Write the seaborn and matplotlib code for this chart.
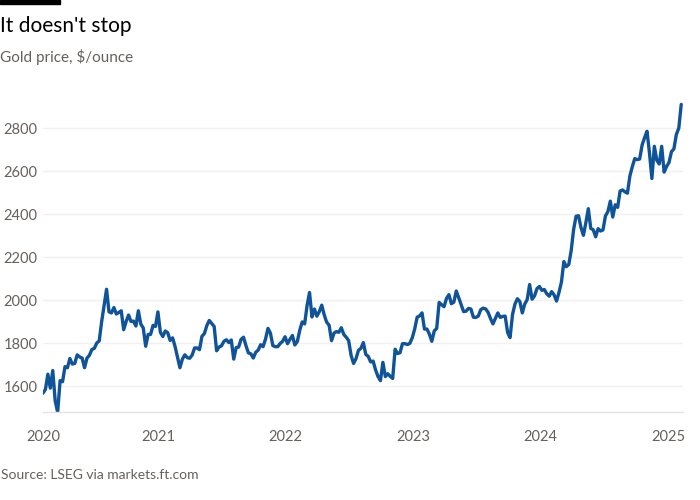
import pandas as pd
import seaborn as sns
import matplotlib.pyplot as plt
from matplotlib.patches import Rectangle

# Weekly gold price ($/ounce) (Friday points, first one 7 Feb 2020)
prices_2020 = [1567, 1584, 1655, 1590,
               1672, 1530, 1478, 1625,
               1620, 1690, 1685, 1728,
               1702, 1705, 1745, 1735, 1730,
               1685, 1730, 1743, 1770,
               1775, 1800, 1810, 1900, 1975,
               2050, 1945, 1940, 1965,
               1935, 1942, 1950, 1862,
               1900, 1930, 1900, 1902, 1879,
               1950, 1888, 1870, 1785,
               1840, 1840, 1882, 1877]
prices_2021 = [1945, 1850, 1830, 1856, 1848,
               1812, 1824, 1784, 1734,
               1685, 1725, 1745, 1732,
               1729, 1744, 1777, 1777, 1769,
               1831, 1844, 1881, 1905,
               1891, 1877, 1764, 1781,
               1787, 1808, 1815, 1802, 1814,
               1725, 1779, 1781, 1817,
               1827, 1788, 1754, 1750,
               1730, 1757, 1767, 1792, 1783,
               1818, 1868, 1846, 1788,
               1783, 1783, 1798, 1808, 1829]
prices_2022 = [1797, 1817, 1835, 1791,
               1807, 1859, 1898, 1889,
               1975, 2035, 1921, 1958,
               1925, 1946, 1976, 1931, 1897,
               1883, 1811, 1846, 1853,
               1850, 1871, 1840, 1827,
               1811, 1742, 1705, 1727, 1766,
               1775, 1802, 1747, 1738,
               1712, 1716, 1675, 1644, 1625,
               1710, 1644, 1657, 1645,
               1635, 1771, 1751, 1755,
               1797, 1797, 1793, 1798, 1824]
prices_2023 = [1865, 1920, 1926, 1940,
               1865, 1865, 1842, 1808,
               1856, 1868, 1989, 1978, 1969,
               2007, 2025, 1983, 1990,
               2042, 2011, 1978, 1946,
               1948, 1961, 1958, 1920, 1919,
               1925, 1955, 1962, 1959,
               1943, 1914, 1889, 1915,
               1940, 1919, 1924, 1925, 1849,
               1825, 1932, 1981, 2006,
               1993, 1940, 1981, 2002,
               2072, 2004, 2019, 2053, 2063]
prices_2024 = [2045, 2049, 2029, 2018,
               2039, 2024, 1995, 2035,
               2083, 2179, 2155, 2165, 2230,
               2329, 2390, 2392, 2337,
               2301, 2360, 2425, 2333, 2327,
               2294, 2332, 2321, 2326,
               2391, 2411, 2460, 2386,
               2443, 2431, 2507, 2512, 2503,
               2497, 2577, 2621, 2658,
               2653, 2656, 2721, 2755,
               2785, 2685, 2565, 2715, 2650,
               2633, 2715, 2595, 2621]
prices_2025 = [2640, 2690, 2703, 2770, 2800, 2910]

prices = prices_2020 + prices_2021 + prices_2022 + prices_2023 + prices_2024 + prices_2025
dates = pd.date_range('2020-02-07', periods=len(prices), freq='W-FRI')
df = pd.DataFrame({'date': dates, 'price': prices})

y_ticks = [1600, 1800, 2000, 2200, 2400, 2600, 2800]
x_tick_dates = ['2020-02-07', '2021-01-01', '2022-01-01', '2023-01-01',
                '2024-01-01', '2025-01-01', '2025-02-07']
x_tick_labels = ['2020', '2021', '2022', '2023', '2024', '2025', '']

sns.set_theme(style='white')
plt.rcParams['font.family'] = ['Lato', 'DejaVu Sans']

grey = '#66605c'
fig = plt.figure(figsize=(7, 5), dpi=100)
ax = fig.add_axes([0.0614, 0.1764, 0.9143, 0.632])

sns.lineplot(data=df, x='date', y='price', ax=ax, color='#0f5499', linewidth=2.4)

ax.set_ylim(1480, 2950)
ax.set_xlim(pd.Timestamp('2020-02-07'), pd.Timestamp('2025-02-12'))
ax.set_yticks(y_ticks)
ax.set_yticklabels([str(v) for v in y_ticks])
ax.set_xticks(pd.to_datetime(x_tick_dates))
ax.set_xticklabels(x_tick_labels)
ax.set_xlabel('')
ax.set_ylabel('')

ax.grid(axis='y', color='#f4eeee', linewidth=1)
ax.grid(axis='x', visible=False)
for s in ['left', 'right', 'top']:
    ax.spines[s].set_visible(False)
ax.spines['bottom'].set_color('#e6e2e0')
ax.spines['bottom'].set_linewidth(1)
ax.tick_params(axis='x', length=8, width=1, color='#e6e2e0', pad=5,
               labelsize=10.5, labelcolor=grey)
ax.tick_params(axis='y', length=0, pad=4, labelsize=10.5, labelcolor=grey)

fig.add_artist(Rectangle((0, 1 - 4 / 500), 60 / 700, 4 / 500,
                         color='black', transform=fig.transFigure))
fig.text(0.0, 1 - 31.5 / 500, "It doesn't stop", fontsize=15,
         color='black', va='baseline', ha='left')
fig.text(0.0, 1 - 62 / 500, 'Gold price, $/ounce', fontsize=11,
         color=grey, va='baseline', ha='left')
fig.text(0.001, 1 - 479 / 500, 'Source: LSEG via markets.ft.com', fontsize=10,
         color=grey, va='baseline', ha='left')

fig.savefig('out.png', dpi=100)
